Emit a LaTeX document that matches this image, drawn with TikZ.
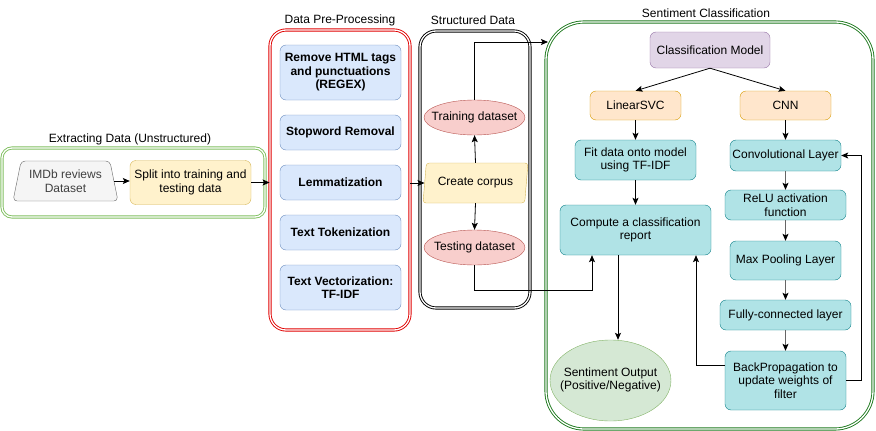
\documentclass[tikz,border=0pt]{standalone}
\usepackage{fontspec}
\setmainfont{Liberation Sans}
\usetikzlibrary{arrows.meta, shapes.geometric}

\definecolor{prepfill}{HTML}{DAE8FC}
\definecolor{prepline}{HTML}{6C8EBF}
\definecolor{yelfill}{HTML}{FFF2CC}
\definecolor{yelline}{HTML}{D6B656}
\definecolor{redfill}{HTML}{F8CECC}
\definecolor{redline}{HTML}{B85450}
\definecolor{purfill}{HTML}{E1D5E7}
\definecolor{purline}{HTML}{9673A6}
\definecolor{orafill}{HTML}{FFE6CC}
\definecolor{oraline}{HTML}{D79B00}
\definecolor{tealfill}{HTML}{B0E3E6}
\definecolor{tealline}{HTML}{0E8088}
\definecolor{grnfill}{HTML}{D5E8D4}
\definecolor{grnline}{HTML}{82B366}
\definecolor{grayfill}{HTML}{F5F5F5}
\definecolor{grayline}{HTML}{666666}
\definecolor{grpred}{HTML}{E00000}
\definecolor{grplight}{HTML}{7FBF5F}
\definecolor{grpdark}{HTML}{1F7A1F}

\begin{document}
\begin{tikzpicture}[x=1pt, y=-1pt,
    every node/.style={font=\fontsize{12}{13.5}\selectfont, align=center, inner sep=1pt},
    grp/.style={draw, double=white, double distance=1.3pt, line width=0.9pt},
    prep/.style={rectangle, rounded corners=6, draw=prepline, fill=prepfill, font=\fontsize{12}{13.5}\selectfont\bfseries},
    box/.style={rectangle, rounded corners=6, draw=#1line, fill=#1fill},
    data/.style={ellipse, draw=redline, fill=redfill, inner sep=0pt, minimum width=101, minimum height=35},
    arr/.style={-{Stealth[length=7pt, width=6pt, inset=1.5pt]}, line width=0.8pt},
    garr/.style={arr, draw=black!60, -{Stealth[length=7pt, width=6pt, inset=1.5pt, black]}}]
    \useasboundingbox (0,0) rectangle (876,431);

    %Groups
    \node[grp, draw=grplight, rounded corners=10, minimum width=263, minimum height=69] at (133.5,182.5) (extract) {};
    \node[grp, draw=grpred, rounded corners=16, minimum width=140, minimum height=300] at (340,180) (pre) {};
    \node[grp, draw=black, rounded corners=16, minimum width=110, minimum height=277] at (475,169.5) (struct) {};
    \node[grp, draw=grpdark, rounded corners=38, minimum width=327, minimum height=407] at (709.5,225.5) (sent) {};
    \node[] at (130,139) (extractlbl) {Extracting Data (Unstructured)};
    \node[] at (340,20) (prelbl) {Data Pre-Processing};
    \node[] at (473,20) (structlbl) {Structured Data};
    \node[fill=white] at (706,13.5) (sentlbl) {Sentiment Classification};

    %Nodes
    \node[trapezium, trapezium left angle=70, trapezium right angle=70, trapezium stretches body=true, rounded corners=4,
          draw=grayline, fill=grayfill, text=black!75, inner sep=0pt, minimum width=105, minimum height=40] at (65.5,181) (imdb) {IMDb reviews\\Dataset};
    \node[box=yel, minimum width=121, minimum height=44] at (190.5,182.5) (split) {Split into training and\\testing data};

    \node[prep, minimum width=121, minimum height=55] at (340.5,72.5) (rmhtml) {Remove HTML tags\\and punctuations\\(REGEX)};
    \node[prep, minimum width=121, minimum height=35] at (340.5,132.5) (stopw) {Stopword Removal};
    \node[prep, minimum width=121, minimum height=35] at (340.5,182.5) (lemma) {Lemmatization};
    \node[prep, minimum width=121, minimum height=35] at (340.5,232.5) (token) {Text Tokenization};
    \node[prep, minimum width=121, minimum height=45] at (340.5,287.5) (vector) {Text Vectorization:\\TF-IDF};

    \node[trapezium, trapezium left angle=73, trapezium right angle=107, trapezium stretches body=true, rounded corners=3,
          draw=yelline, fill=yelfill, inner sep=0pt, minimum width=105, minimum height=40] at (475.5,183) (corpus) {Create corpus};
    \node[data] at (474.5,117.5) (train) {\makebox[0pt]{Training dataset}};
    \node[data] at (474.5,247.5) (test) {\makebox[0pt]{Testing dataset}};

    \node[box=pur, minimum width=120, minimum height=36] at (710,50) (classmod) {Classification Model};
    \node[box=ora, minimum width=91, minimum height=29] at (635.5,105.5) (lsvc) {LinearSVC};
    \node[box=ora, minimum width=91, minimum height=29] at (785.5,105.5) (cnn) {CNN};
    \node[box=teal, minimum width=121, minimum height=40] at (635.5,160) (fit) {Fit data onto model\\using TF-IDF};
    \node[box=teal, minimum width=151, minimum height=50] at (635.5,230) (report) {Compute a classification\\report};
    \node[ellipse, draw=grnline, fill=grnfill, inner sep=0pt, minimum width=121, minimum height=81] at (610.5,380.5) (out)
        {\makebox[0pt]{\begin{tabular}{@{}c@{}}Sentiment Output\\(Positive/Negative)\end{tabular}}};

    \node[box=teal, minimum width=111, minimum height=31] at (785.5,155.5) (conv) {Convolutional Layer};
    \node[box=teal, minimum width=121, minimum height=30] at (785.5,205) (relu) {ReLU activation\\function};
    \node[box=teal, minimum width=111, minimum height=39] at (785.5,260.5) (pool) {Max Pooling Layer};
    \node[box=teal, minimum width=131, minimum height=30] at (785.5,315) (fc) {Fully-connected layer};
    \node[box=teal, minimum width=121, minimum height=59] at (785.5,380.5) (bp) {BackPropagation to\\update weights of\\filter};

    \coordinate (sentin) at (548,42);
    \coordinate (repin) at (592,290);

    %Lines
    \draw[arr] (imdb.east) -- (imdb.east -| split.west);
    \draw[arr] (split.east) -- (split.east -| pre.west);
    \draw[arr] (pre.east |- corpus.west) -- (corpus.west);
    \draw[arr] (corpus.north) -- (train.south);
    \draw[arr] (corpus.south) -- (test.north);
    \draw[arr] (train.north) |- (sentin);
    \draw[arr] (test.south) |- (repin) -- (repin |- report.south);

    \draw[arr] (classmod.south) -- (lsvc.north);
    \draw[arr] (classmod.south) -- (cnn.north);
    \draw[arr] (lsvc.south) -- (fit.north);
    \draw[arr] (fit.south) -- (report.north);
    \draw[arr] ([xshift=-17.5pt]report.south) -- ([xshift=-17.5pt]report.south |- out.north);

    \draw[arr] (cnn.south) -- (conv.north);
    \draw[garr] (conv.south) -- (relu.north);
    \draw[garr] (relu.south) -- (pool.north);
    \draw[garr] (pool.south) -- (fc.north);
    \draw[garr] (fc.south) -- (bp.north);
    \draw[arr] (bp.east) -- ++(15,0) |- (conv.east);
    \draw[arr] ([yshift=15.5pt]bp.west) -| ([xshift=60.5pt]report.south);

\end{tikzpicture}
\end{document}
